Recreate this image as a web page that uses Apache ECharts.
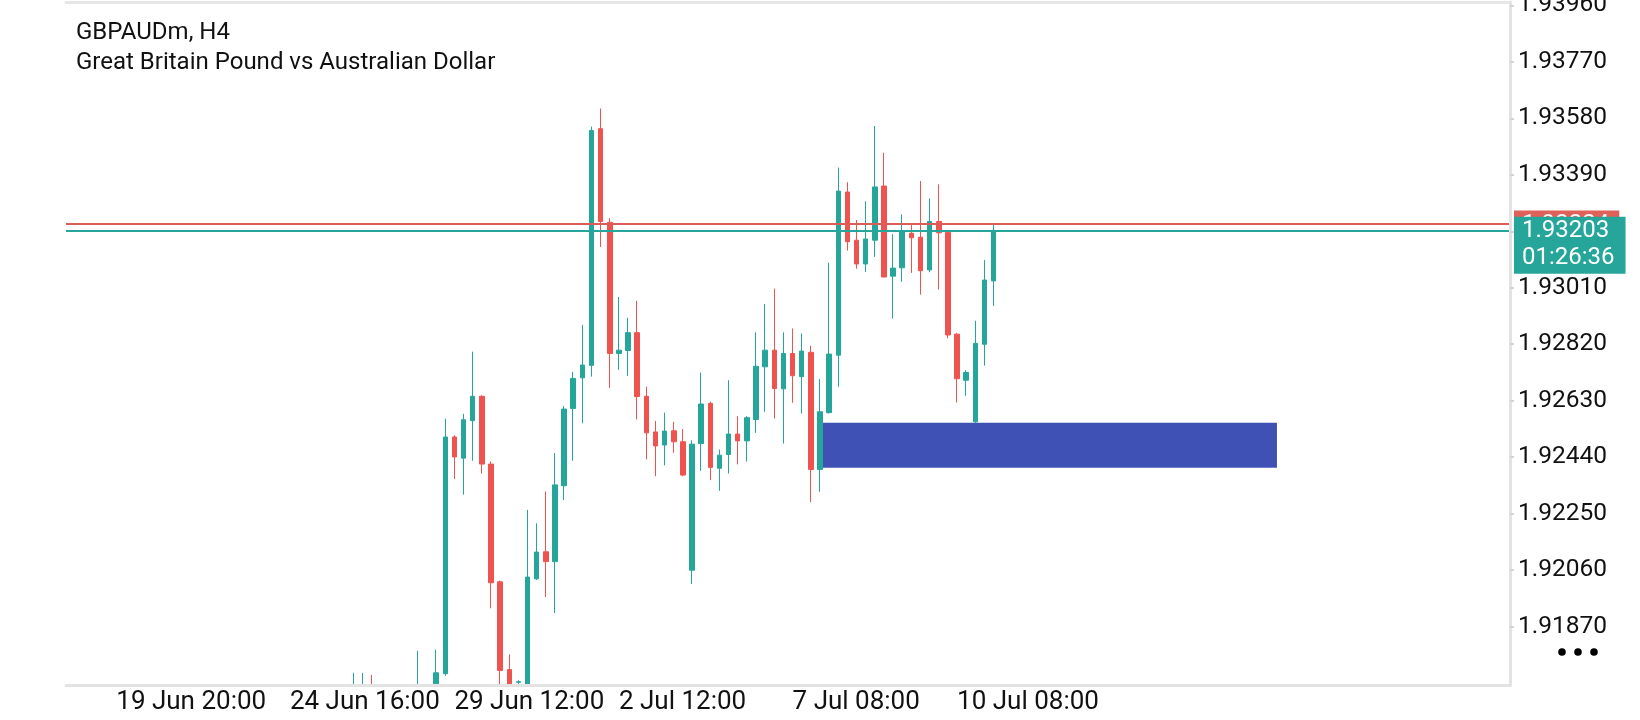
<!DOCTYPE html>
<html>
<head>
<meta charset="utf-8">
<script src="https://cdn.jsdelivr.net/npm/echarts@6/dist/echarts.min.js"></script>
<style>
  html, body { margin: 0; padding: 0; background: #fff; }
  #chart { width: 1640px; height: 720px; }
</style>
</head>
<body>
<div id="chart"></div>
<script>
// H4 bars, first visible bar is slot 31 (earlier ones sit below the price scale)
var barCount = 158;   // slots on the time axis, the empty right part included
var firstBar = 31;

var opens = [
    1.9162, 1.9163, 1.9166, null, null, null, null, 1.9163, null, 1.91678,
    1.91712, 1.92508, 1.92437, 1.92563, 1.92645, 1.92417, 1.92021, 1.91726, 1.91683, 1.91640,
    1.92031, 1.92122, 1.92089, 1.92344, 1.92604, 1.92707, 1.92749, 1.93545, 1.93230, 1.92789,
    1.92799, 1.92859, 1.92645, 1.92525, 1.92481, 1.92529, 1.92492, 1.92060, 1.92486, 1.92621,
    1.92403, 1.92449, 1.92518, 1.92495, 1.92567, 1.92744, 1.92800, 1.92670, 1.92789, 1.92711,
    1.92793, 1.92399, 1.92590, 1.92783, 1.93332, 1.93170, 1.93090, 1.93170, 1.93352, 1.93049,
    1.93077, 1.93193, 1.93180, 1.93070, 1.93233, 1.93196, 1.92854, 1.92699, 1.92559, 1.92820, 1.93033
];
var closes = [
    1.9165, 1.9166, 1.9163, null, null, null, null, 1.9166, null, 1.91715,
    1.92508, 1.92441, 1.92566, 1.92645, 1.92417, 1.92018, 1.91723, 1.91675, 1.91685, 1.92037,
    1.92121, 1.92089, 1.92347, 1.92602, 1.92705, 1.92750, 1.93539, 1.93233, 1.92789, 1.92800,
    1.92859, 1.92644, 1.92522, 1.92478, 1.92528, 1.92492, 1.92380, 1.92484, 1.92619, 1.92406,
    1.92447, 1.92518, 1.92495, 1.92573, 1.92746, 1.92800, 1.92671, 1.92789, 1.92714, 1.92797,
    1.92399, 1.92593, 1.92787, 1.93335, 1.93165, 1.93090, 1.93174, 1.93349, 1.93046, 1.93076,
    1.93201, 1.93178, 1.93067, 1.93233, 1.93195, 1.92851, 1.92704, 1.92725, 1.92823, 1.93036, 1.93203
];
var lows = [
    1.9160, 1.9161, 1.9161, null, null, null, null, 1.9160, null, 1.9166,
    1.91705, 1.92367, 1.92314, 1.92428, 1.92385, 1.91932, 1.91670, 1.91660, 1.91660, 1.91620,
    1.92027, 1.91970, 1.91916, 1.92296, 1.92428, 1.92554, 1.92711, 1.93147, 1.92673, 1.92734,
    1.92714, 1.92567, 1.92433, 1.92376, 1.92413, 1.92455, 1.92376, 1.92014, 1.92394, 1.92363,
    1.92327, 1.92385, 1.92416, 1.92425, 1.92522, 1.92593, 1.92570, 1.92486, 1.92623, 1.92587,
    1.92289, 1.92324, 1.92587, 1.92677, 1.93135, 1.93074, 1.93063, 1.93114, 1.93046, 1.92906,
    1.93030, 1.93060, 1.92987, 1.93062, 1.93004, 1.92840, 1.92624, 1.92647, 1.92554, 1.92748, 1.92949
];
var highs = [
    1.91715, 1.91715, 1.91708, null, null, null, null, 1.91789, null, 1.91793,
    1.92570, 1.92514, 1.92586, 1.92795, 1.92648, 1.92426, 1.92025, 1.91777, 1.91690, 1.92263,
    1.92218, 1.92325, 1.92454, 1.92612, 1.92727, 1.92885, 1.93552, 1.93613, 1.93244, 1.92979,
    1.92909, 1.92966, 1.92677, 1.92562, 1.92590, 1.92559, 1.92535, 1.92497, 1.92725, 1.92627,
    1.92466, 1.92699, 1.92578, 1.92578, 1.92860, 1.92955, 1.93007, 1.92860, 1.92873, 1.92856,
    1.92815, 1.92703, 1.93094, 1.93414, 1.93365, 1.93238, 1.93301, 1.93554, 1.93464, 1.93190,
    1.93257, 1.93224, 1.93369, 1.93310, 1.93358, 1.93198, 1.92858, 1.92733, 1.92899, 1.93103, 1.93224
];

// time labels and the bar slot each one sits on
var xLabels = ['19 Jun 20:00', '24 Jun 16:00', '29 Jun 12:00', '2 Jul 12:00', '7 Jul 08:00', '10 Jul 08:00'];
var xLabelBars = [5, 24, 42, 60, 79, 97];

// price scale
var yTicks = [1.91870, 1.92060, 1.92250, 1.92440, 1.92630, 1.92820, 1.93010, 1.93200, 1.93390, 1.93580, 1.93770, 1.93960];
var yMin = 1.91674;
var yMax = 1.93971;

var askPrice = 1.93224;
var bidPrice = 1.93203;
var countdown = '01:26:36';

// demand zone box
var zoneFrom = 82;
var zoneTo = 132;
var zoneTop = 1.92556;
var zoneBottom = 1.92405;

var upColor = '#26a69a';
var downColor = '#ef5350';
var font = 'Roboto';

// build the category slots and the candle rows
var slots = [];
for (var i = 0; i < barCount; i++) {
    slots.push('b' + i);
}
var candles = [];
for (var i = 0; i < barCount; i++) {
    var k = i - firstBar;
    if (k < 0 || k >= opens.length || opens[k] === null) {
        candles.push('-');
    } else {
        candles.push([opens[k], closes[k], lows[k], highs[k]]);
    }
}

function labelIndex(idx) {
    return xLabelBars.indexOf(idx);
}

var chart = echarts.init(document.getElementById('chart'));

var option = {
    animation: false,
    backgroundColor: '#ffffff',
    title: {
        text: 'GBPAUDm, H4\nGreat Britain Pound vs Australian Dollar',
        left: 76,
        top: 18,
        padding: 0,
        textStyle: {
            fontFamily: font,
            fontSize: 24,
            fontWeight: 'normal',
            color: '#111111',
            lineHeight: 30
        }
    },
    grid: {
        left: 66,
        right: 130,
        top: 2,
        bottom: 35,
        containLabel: false,
        outerBoundsMode: 'none'   // let the top price label run off the canvas
    },
    xAxis: [{
        type: 'category',
        data: slots,
        boundaryGap: true,
        z: 10,
        axisLine: { lineStyle: { color: '#e3e3e3', width: 3 } },
        axisTick: {
            alignWithLabel: true,
            length: 4,
            lineStyle: { color: '#d4d4d4', width: 2 },
            interval: function (idx) { return labelIndex(idx) >= 0; }
        },
        axisLabel: {
            interval: function (idx) { return labelIndex(idx) >= 0; },
            formatter: function (v, idx) { return labelIndex(idx) >= 0 ? xLabels[labelIndex(idx)] : ''; },
            align: 'left',
            margin: 4,
            fontFamily: font,
            fontSize: 26,
            color: '#111111'
        },
        splitLine: { show: false }
    }, {
        // only the thin border along the top
        type: 'category',
        data: slots,
        position: 'top',
        z: 10,
        axisLine: { lineStyle: { color: '#e6e6e6', width: 3 } },
        axisTick: { show: false },
        axisLabel: { show: false }
    }],
    yAxis: {
        type: 'value',
        position: 'right',
        min: yMin,
        max: yMax,
        z: 10,
        axisLine: { show: true, lineStyle: { color: '#e3e3e3', width: 3 } },
        axisTick: {
            show: true,
            length: 4,
            customValues: yTicks,
            lineStyle: { color: '#d4d4d4', width: 2 }
        },
        axisLabel: {
            customValues: yTicks,
            formatter: function (v) { return v.toFixed(5); },
            margin: 8,
            padding: [5, 0, 0, 0],
            fontFamily: font,
            fontSize: 24.5,
            color: '#111111'
        },
        splitLine: { show: false }
    },
    series: [{
        type: 'candlestick',
        data: candles,
        barWidth: 5,
        clip: true,
        itemStyle: {
            color: upColor,
            color0: downColor,
            borderColor: upColor,
            borderColor0: downColor,
            borderWidth: 1
        },
        markLine: {
            silent: true,
            symbol: 'none',
            precision: 5,
            label: { show: false },
            data: [
                { yAxis: askPrice, lineStyle: { color: '#dc5c58', width: 2, type: 'solid' } },
                { yAxis: bidPrice, lineStyle: { color: upColor, width: 2, type: 'solid' } }
            ]
        }
    }, {
        // zone box drawn above the candles
        type: 'line',
        data: [],
        z: 10,
        markArea: {
            silent: true,
            itemStyle: { color: '#3f51b5', opacity: 1 },
            data: [[
                { xAxis: zoneFrom, yAxis: zoneTop },
                { xAxis: zoneTo, yAxis: zoneBottom }
            ]]
        }
    }]
};

chart.setOption(option);

// price tags on the scale, placed from the axis itself
var askY = chart.convertToPixel({ yAxisIndex: 0 }, askPrice);
var bidY = chart.convertToPixel({ yAxisIndex: 0 }, bidPrice);
var plotBottom = chart.convertToPixel({ yAxisIndex: 0 }, yMin);

chart.setOption({
    graphic: [{
        // candles running below the scale are hidden under the axis strip
        type: 'rect',
        z: 5,
        shape: { x: 0, y: plotBottom + 1.5, width: 1500, height: 60 },
        style: { fill: '#ffffff' }
    }, {
        type: 'text',
        x: 1514,
        y: askY - 13.5,
        z: 50,
        style: {
            text: askPrice.toFixed(5),
            font: '24px Roboto',
            fill: '#ffffff',
            backgroundColor: '#e0605a',
            padding: [1, 10, 1, 8],
            lineHeight: 27,
            verticalAlign: 'top'
        }
    }, {
        type: 'text',
        x: 1514,
        y: bidY - 13.5,
        z: 51,
        style: {
            text: bidPrice.toFixed(5) + '\n' + countdown,
            font: '24px Roboto',
            fill: '#ffffff',
            backgroundColor: upColor,
            padding: [1, 11, 2, 8],
            lineHeight: 27,
            verticalAlign: 'top'
        }
    }, {
        type: 'circle', shape: { cx: 1562, cy: 652, r: 3.8 }, style: { fill: '#000' }
    }, {
        type: 'circle', shape: { cx: 1578, cy: 652, r: 3.8 }, style: { fill: '#000' }
    }, {
        type: 'circle', shape: { cx: 1594, cy: 652, r: 3.8 }, style: { fill: '#000' }
    }]
});
</script>
</body>
</html>
